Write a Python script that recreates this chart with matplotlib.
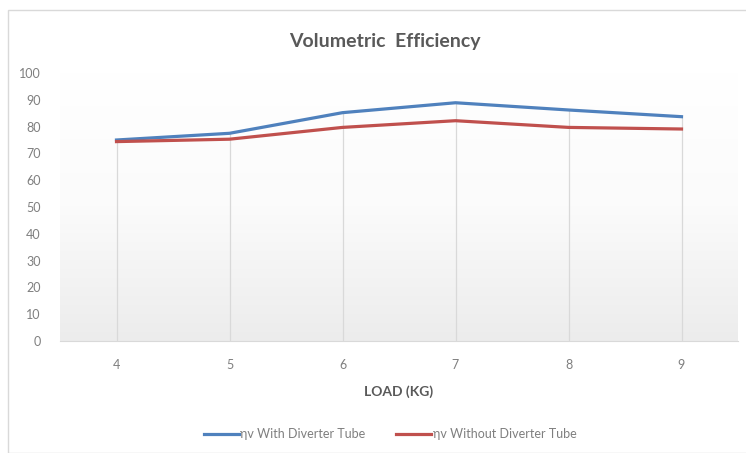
import matplotlib
matplotlib.use("Agg")
import matplotlib.pyplot as plt
import numpy as np
from matplotlib.patches import Rectangle
from matplotlib.colors import LinearSegmentedColormap

loads = [4, 5, 6, 7, 8, 9]
with_tube = [75.0, 77.5, 85.2, 88.9, 86.2, 83.7]
without_tube = [74.4, 75.3, 79.7, 82.2, 79.7, 79.1]
yticks = [0, 10, 20, 30, 40, 50, 60, 70, 80, 90, 100]

plt.rcParams['font.family'] = ['Lato', 'DejaVu Sans']
grey = '#595959'
light = '#7f7f7f'

fig = plt.figure(figsize=(7.46, 4.53), dpi=100)
fig.patches.append(Rectangle((8/746, 0), 1, 1 - 10/453, transform=fig.transFigure,
                             fill=False, edgecolor='#d9d9d9', lw=1))

ax = fig.add_axes([60/746, 1 - 341/453, 678/746, (341 - 73)/453])
x = np.arange(len(loads))

# gradient background
grad = np.linspace(0, 1, 256).reshape(-1, 1)
cmap = LinearSegmentedColormap.from_list('g', ['#ececec', '#fbfbfb', '#ffffff'])
ax.imshow(grad, aspect='auto', cmap=cmap, extent=[-0.5, len(loads) - 0.5, 0, 100],
          origin='lower', zorder=0, vmin=0, vmax=1)

# drop lines from the higher series down to the axis
tops = np.maximum(with_tube, without_tube)
ax.vlines(x, 0, tops, color='#d9d9d9', lw=0.9, zorder=1)

ax.plot(x, with_tube, color='#4f81bd', lw=2.3, label='ηv With Diverter Tube', zorder=3)
ax.plot(x, without_tube, color='#c0504d', lw=2.3, label='ηv Without Diverter Tube', zorder=3)

ax.set_xlim(-0.5, len(loads) - 0.5)
ax.set_ylim(0, 100)
ax.set_xticks(x)
ax.set_xticklabels([str(v) for v in loads])
ax.set_yticks(yticks)
for s in ['top', 'right', 'left']:
    ax.spines[s].set_visible(False)
ax.spines['bottom'].set_color('#d9d9d9')
ax.tick_params(axis='both', length=0, colors=light, labelsize=9)
ax.tick_params(axis='x', pad=13)
ax.tick_params(axis='y', pad=14)

ax.set_xlabel('LOAD (KG)', fontsize=10, fontweight='bold', color=grey, labelpad=10)
fig.text(385/746, 1 - 42/453, 'Volumetric  Efficiency', ha='center', va='center',
         fontsize=14, fontweight='bold', color=grey)

fig.legend(loc='center', bbox_to_anchor=(390/746, 1 - 434/453), ncol=2, frameon=False,
           fontsize=9, handlelength=2.8, handletextpad=0.1, columnspacing=2.5,
           labelcolor=light)

fig.savefig('out.png', dpi=100)
